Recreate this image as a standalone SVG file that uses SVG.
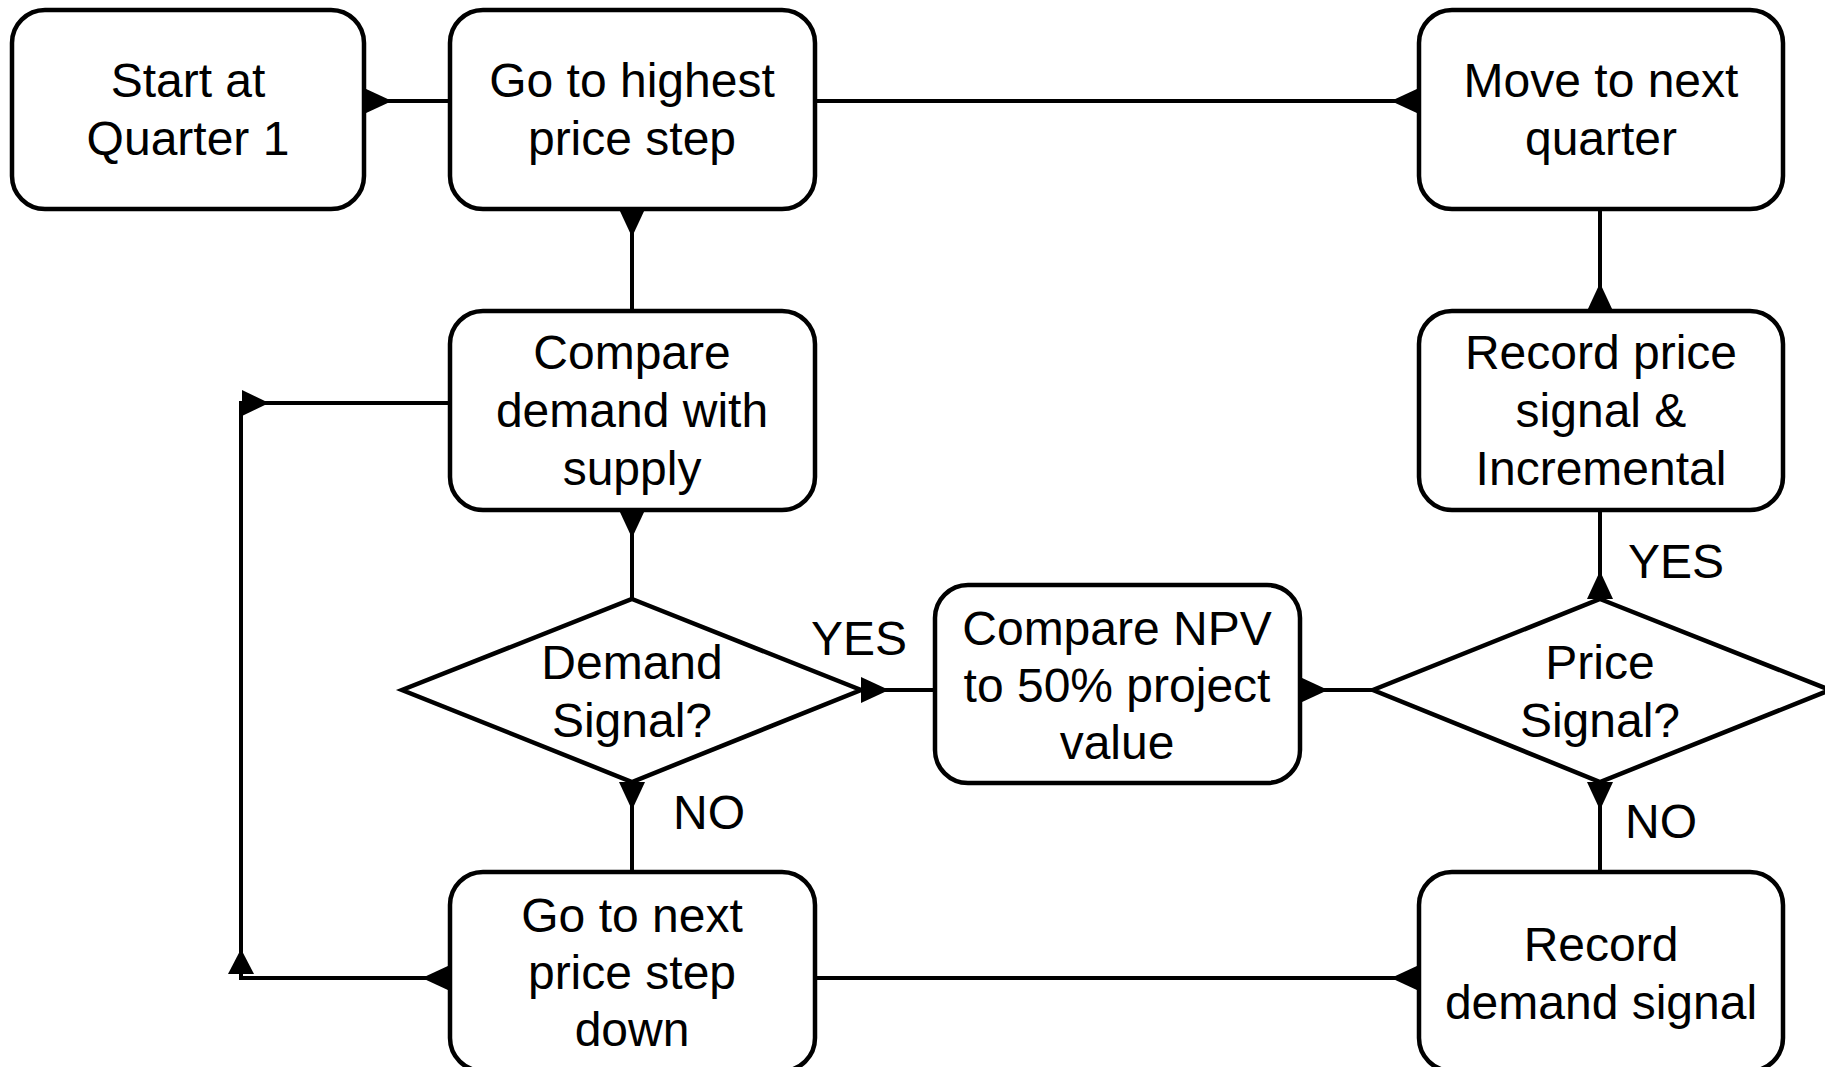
<svg xmlns="http://www.w3.org/2000/svg" width="1825" height="1067" viewBox="0 0 1825 1067">
<style>
.box{fill:#fff;stroke:#000;stroke-width:4.5}
.dia{fill:#fff;stroke:#000;stroke-width:4.5;stroke-linejoin:miter}
.t{font-family:"Liberation Sans",Arial,sans-serif;font-size:48px;fill:#000;text-anchor:middle}
.l{font-family:"Liberation Sans",Arial,sans-serif;font-size:48px;fill:#000}
.c{fill:none;stroke:#000;stroke-width:4}
.h{fill:#000;stroke:none}
</style>
<rect width="1825" height="1067" fill="#fff"/>
<g id="connectors">
<path class="c" d="M364 101H450"/>
<polygon class="h" points="364,88 364,114 392,101"/>
<path class="c" d="M815 101H1419"/>
<polygon class="h" points="1419,88 1419,114 1391,101"/>
<path class="c" d="M632 209V311"/>
<polygon class="h" points="619,209 645,209 632,237"/>
<path class="c" d="M632 510V599"/>
<polygon class="h" points="619,510 645,510 632,538"/>
<path class="c" d="M861 690H935"/>
<polygon class="h" points="861,677 861,703 889,690"/>
<path class="c" d="M1300 690H1373"/>
<polygon class="h" points="1300,677 1300,703 1328,690"/>
<path class="c" d="M1600 599V510"/>
<polygon class="h" points="1587,599 1613,599 1600,571"/>
<path class="c" d="M1600 311V209"/>
<polygon class="h" points="1587,311 1613,311 1600,283"/>
<path class="c" d="M1600 782V872"/>
<polygon class="h" points="1587,782 1613,782 1600,810"/>
<path class="c" d="M1419 978H815"/>
<polygon class="h" points="1419,965 1419,991 1391,978"/>
<path class="c" d="M632 782V872"/>
<polygon class="h" points="619,782 645,782 632,810"/>
<path class="c" d="M450 978H241V403H450"/>
<polygon class="h" points="450,965 450,991 422,978"/>
<polygon class="h" points="228,974 254,974 241,949"/>
<polygon class="h" points="242,390 242,416 269,403"/>
</g>
<g id="start">
<rect class="box" x="12" y="10" width="352" height="199" rx="33"/>
<text class="t" x="188" y="97">Start at</text>
<text class="t" x="188" y="155">Quarter 1</text>
</g>
<g id="highest">
<rect class="box" x="450" y="10" width="365" height="199" rx="33"/>
<text class="t" x="632" y="97">Go to highest</text>
<text class="t" x="632" y="155">price step</text>
</g>
<g id="nextquarter">
<rect class="box" x="1419" y="10" width="364" height="199" rx="33"/>
<text class="t" x="1601" y="97">Move to next</text>
<text class="t" x="1601" y="155">quarter</text>
</g>
<g id="compare">
<rect class="box" x="450" y="311" width="365" height="199" rx="33"/>
<text class="t" x="632" y="369">Compare</text>
<text class="t" x="632" y="427">demand with</text>
<text class="t" x="632" y="485">supply</text>
</g>
<g id="recordprice">
<rect class="box" x="1419" y="311" width="364" height="199" rx="33"/>
<text class="t" x="1601" y="369">Record price</text>
<text class="t" x="1601" y="427">signal &amp;</text>
<text class="t" x="1601" y="485">Incremental</text>
</g>
<g id="demanddiamond">
<polygon class="dia" points="632,599 861,690 632,782 402,690"/>
<text class="t" x="632" y="679">Demand</text>
<text class="t" x="632" y="737">Signal?</text>
</g>
<g id="npv">
<rect class="box" x="935" y="585" width="365" height="198" rx="33"/>
<text class="t" x="1117" y="645">Compare NPV</text>
<text class="t" x="1117" y="702">to 50% project</text>
<text class="t" x="1117" y="759">value</text>
</g>
<g id="pricediamond">
<polygon class="dia" points="1600,599 1830,690 1600,782 1373,690"/>
<text class="t" x="1600" y="679">Price</text>
<text class="t" x="1600" y="737">Signal?</text>
</g>
<g id="nextstep">
<rect class="box" x="450" y="872" width="365" height="199" rx="33"/>
<text class="t" x="632" y="932">Go to next</text>
<text class="t" x="632" y="989">price step</text>
<text class="t" x="632" y="1046">down</text>
</g>
<g id="recorddemand">
<rect class="box" x="1419" y="872" width="364" height="199" rx="33"/>
<text class="t" x="1601" y="961">Record</text>
<text class="t" x="1601" y="1019">demand signal</text>
</g>
<g id="labels">
<text class="l" x="811" y="655">YES</text>
<text class="l" x="673" y="829">NO</text>
<text class="l" x="1628" y="578">YES</text>
<text class="l" x="1625" y="838">NO</text>
</g>
</svg>
